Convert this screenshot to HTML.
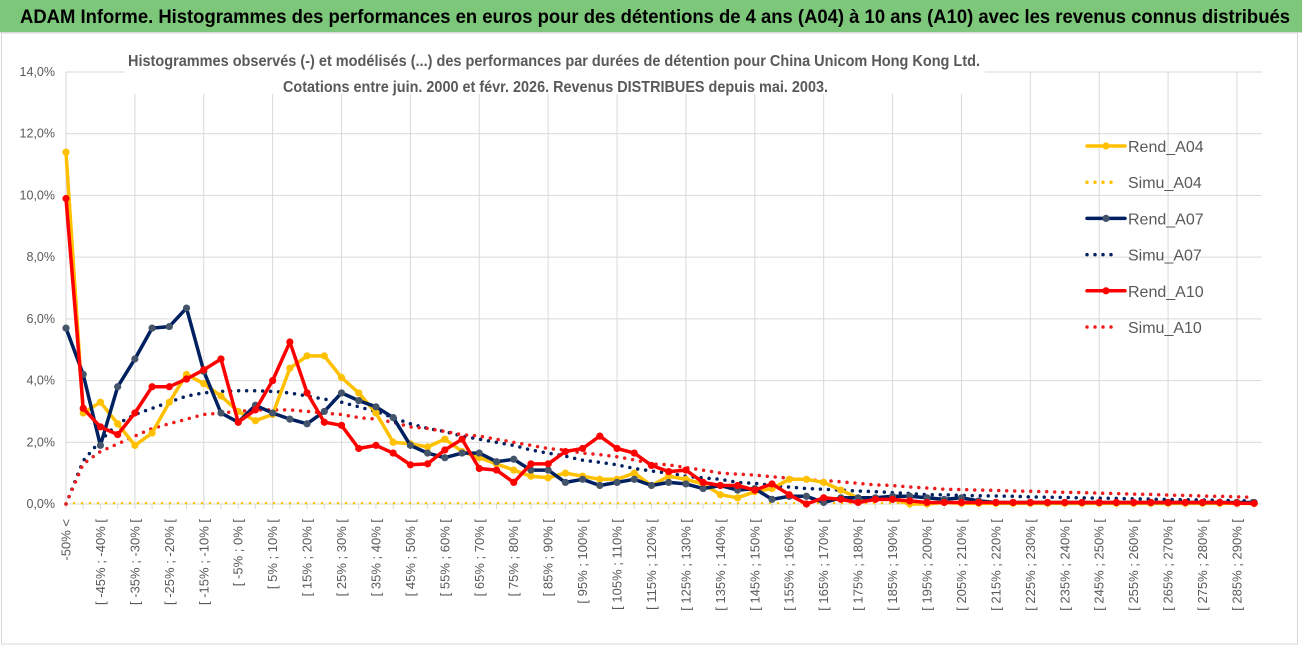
<!DOCTYPE html>
<html><head><meta charset="utf-8">
<style>
html,body{margin:0;padding:0;background:#fff;}
svg{display:block;font-family:"Liberation Sans Narrow","Liberation Sans",sans-serif;}
</style></head>
<body>
<svg id="chart" width="1302" height="647" viewBox="0 0 1302 647" xmlns="http://www.w3.org/2000/svg">
  <rect x="0" y="0" width="1302" height="647" fill="#fff"/>
  <rect x="0" y="0" width="1302" height="32" fill="#7cc77a"/>
  <line x1="0" y1="32.5" x2="1302" y2="32.5" stroke="#d9d9d9" stroke-width="1"/>
  <text x="20" y="23" font-size="19" font-weight="bold" fill="#000" textLength="1270" lengthAdjust="spacingAndGlyphs">ADAM Informe. Histogrammes des performances en euros pour des détentions de 4 ans (A04) à 10 ans (A10) avec les revenus connus distribués</text>
  <rect x="1.5" y="33" width="1296" height="611" fill="none" stroke="#d9d9d9"/>
  <g id="grid"></g>
  <g id="yaxis"></g>
  <g id="xaxis"></g>
  <g id="series"></g>
  <rect x="125" y="44" width="860" height="50" fill="#fff"/>
  <text x="128" y="66" font-size="16" font-weight="bold" fill="#595959" textLength="852" lengthAdjust="spacingAndGlyphs">Histogrammes observés (-) et modélisés (...) des performances par durées de détention pour China Unicom Hong Kong Ltd.</text>
  <text x="283" y="92" font-size="16" font-weight="bold" fill="#595959" textLength="545" lengthAdjust="spacingAndGlyphs">Cotations entre juin. 2000 et févr. 2026. Revenus DISTRIBUES depuis mai. 2003.</text>
  <g id="legend"></g>
</svg>
<script>
const categories = (function(){ const c=["-50% <"]; for(let a=-50;a<295;a+=5){ c.push("[ "+a+"% ; "+(a+5)+"% ["); } return c; })();
const yTicks = [0,2,4,6,8,10,12,14];
const yTickLabels = ["0,0%","2,0%","4,0%","6,0%","8,0%","10,0%","12,0%","14,0%"];
const rendA04 = [11.4,2.95,3.3,2.6,1.9,2.3,3.3,4.2,3.9,3.5,3.0,2.7,2.9,4.4,4.8,4.8,4.1,3.6,2.95,2.0,1.95,1.85,2.1,1.7,1.5,1.3,1.1,0.9,0.85,1.0,0.9,0.8,0.8,1.0,0.6,0.9,0.8,0.65,0.3,0.2,0.4,0.5,0.8,0.8,0.7,0.45,0.2,0.15,0.15,0.0,0.0,0.05,0.02,0.02,0.02,0.02,0.02,0.02,0.02,0.02,0.02,0.02,0.02,0.02,0.02,0.02,0.02,0.02,0.02,0.02];
const simuA04 = [0.03,0.03,0.03,0.03,0.03,0.03,0.03,0.03,0.03,0.03,0.03,0.03,0.03,0.03,0.03,0.03,0.03,0.03,0.03,0.03,0.03,0.03,0.03,0.03,0.03,0.03,0.03,0.03,0.03,0.03,0.03,0.03,0.03,0.03,0.03,0.03,0.03,0.03,0.03,0.03,0.03,0.03,0.03,0.03,0.03,0.03,0.03,0.03,0.03,0.03,0.03,0.03,0.03,0.03,0.03,0.03,0.03,0.03,0.03,0.03,0.03,0.03,0.03,0.03,0.03,0.03,0.03,0.03,0.03,0.03];
const rendA07 = [5.7,4.2,1.9,3.8,4.7,5.7,5.75,6.35,4.3,2.95,2.65,3.2,2.95,2.75,2.6,3.0,3.6,3.35,3.15,2.8,1.9,1.65,1.5,1.65,1.65,1.37,1.45,1.1,1.1,0.7,0.8,0.6,0.7,0.8,0.6,0.7,0.65,0.5,0.6,0.45,0.5,0.15,0.25,0.25,0.05,0.2,0.2,0.2,0.25,0.25,0.2,0.15,0.2,0.1,0.05,0.05,0.05,0.05,0.05,0.05,0.05,0.05,0.05,0.05,0.05,0.05,0.05,0.05,0.05,0.05];
const simuA07 = [0,1.4,2.05,2.6,2.9,3.1,3.3,3.5,3.6,3.65,3.67,3.67,3.65,3.6,3.5,3.4,3.3,3.15,3.0,2.8,2.6,2.45,2.35,2.2,2.1,2.0,1.9,1.75,1.65,1.55,1.42,1.35,1.27,1.15,1.07,1.0,0.9,0.85,0.8,0.7,0.67,0.6,0.55,0.5,0.48,0.45,0.42,0.4,0.37,0.34,0.3,0.3,0.28,0.27,0.26,0.25,0.23,0.22,0.21,0.2,0.19,0.18,0.17,0.16,0.15,0.14,0.13,0.12,0.11,0.1];
const rendA10 = [9.9,3.1,2.5,2.25,2.95,3.8,3.8,4.05,4.35,4.7,2.65,3.05,4.0,5.25,3.6,2.65,2.55,1.8,1.9,1.65,1.27,1.3,1.75,2.1,1.15,1.1,0.7,1.3,1.3,1.7,1.8,2.2,1.8,1.65,1.25,1.05,1.1,0.7,0.6,0.6,0.45,0.65,0.3,0.0,0.2,0.15,0.05,0.15,0.15,0.1,0.05,0.05,0.05,0.05,0.05,0.05,0.05,0.05,0.05,0.05,0.05,0.05,0.05,0.05,0.05,0.05,0.05,0.05,0.03,0.02];
const simuA10 = [0,1.3,1.7,1.95,2.2,2.45,2.6,2.75,2.9,2.95,3.0,3.05,3.05,3.05,3.0,2.95,2.9,2.8,2.75,2.65,2.5,2.45,2.35,2.25,2.2,2.1,2.0,1.9,1.8,1.75,1.65,1.6,1.53,1.43,1.3,1.27,1.18,1.1,1.0,0.97,0.94,0.88,0.84,0.78,0.76,0.72,0.67,0.62,0.6,0.55,0.52,0.48,0.47,0.45,0.44,0.42,0.41,0.4,0.38,0.37,0.35,0.34,0.32,0.31,0.29,0.28,0.26,0.25,0.23,0.22];

const NS="http://www.w3.org/2000/svg";
const X0=66, STEP=17.22, Y0=504, YTOP=72, YMAX=14, XR=1262;
function xScale(i){ return X0+i*STEP; }
function yScale(v){ return Y0-(v/YMAX)*(Y0-YTOP); }
function mk(tag,attrs,parent){ const e=document.createElementNS(NS,tag); for(const k in attrs) e.setAttribute(k,attrs[k]); parent.appendChild(e); return e; }

const grid=document.getElementById('grid');
yTicks.forEach((t,k)=>{
  const l=mk('line',{x1:X0,x2:XR,y1:yScale(t),y2:yScale(t),stroke:'#d9d9d9','stroke-width':1},grid);
  
  
});
for(let i=0;i<categories.length;i+=4){
  const l=mk('line',{x1:xScale(i),x2:xScale(i),y1:YTOP,y2:Y0,stroke:'#d9d9d9','stroke-width':1},grid);
  
  
}
const ya=document.getElementById('yaxis');
yTicks.forEach((t,k)=>{
  const tx=mk('text',{x:55,y:yScale(t)+4,'text-anchor':'end','font-size':12.5,fill:'#595959'},ya);
  tx.textContent=yTickLabels[k];
  
  
});
const xa=document.getElementById('xaxis');
mk('line',{x1:X0,x2:XR,y1:Y0,y2:Y0,stroke:'#d9d9d9','stroke-width':1},xa);
for(let i=0;i<categories.length;i++){
  mk('line',{x1:xScale(i),x2:xScale(i),y1:Y0,y2:Y0+5,stroke:'#d9d9d9','stroke-width':1},xa);
  if(i%2===0){
    const x=xScale(i)+4.5, y=519;
    const tx=mk('text',{x:x,y:y,'text-anchor':'end','font-size':13,fill:'#595959',transform:'rotate(-90 '+x+' '+y+')'},xa);
    tx.textContent=categories[i];
    
    
  }
}
const seriesG=document.getElementById('series');
function pathFor(arr){ return arr.map((v,i)=>(i?'L':'M')+xScale(i).toFixed(1)+' '+yScale(v).toFixed(1)).join(' '); }
function dotted(arr,color,w,name){
  const p=mk('path',{d:pathFor(arr),fill:'none',stroke:color,'stroke-width':w,'stroke-linecap':'round','stroke-dasharray':'0 8'},seriesG);
  
  
}
function solid(arr,color,mcolor,name){
  const g=mk('g',{},seriesG);
  
  
  mk('path',{d:pathFor(arr),fill:'none',stroke:color,'stroke-width':3.5,'stroke-linejoin':'round'},g);
  arr.forEach((v,i)=>{
    const c=mk('circle',{cx:xScale(i),cy:yScale(v),r:3.6,fill:mcolor},g);
    
    
  });
}
dotted(simuA04,'#ffc000',2.5,'simu-a04-line');
dotted(simuA07,'#002060',3.5,'simu-a07-line');
dotted(simuA10,'#ee1c1c',3.5,'simu-a10-line');
solid(rendA04,'#ffc000','#ffc000','rend-a04-line');
solid(rendA07,'#002060','#44546a','rend-a07-line');
solid(rendA10,'#ff0000','#ff0000','rend-a10-line');

const legend=document.getElementById('legend');
const legendItems=[["Rend_A04","#ffc000","#ffc000",false],["Simu_A04","#ffc000","",true],["Rend_A07","#002060","#44546a",false],["Simu_A07","#002060","",true],["Rend_A10","#ff0000","#ff0000",false],["Simu_A10","#ee1c1c","",true]];
legendItems.forEach((it,k)=>{
  const y=146+k*36.2;
  const g=mk('g',{},legend);
  
  
  if(it[3]){
    mk('line',{x1:1087,x2:1117,y1:y,y2:y,stroke:it[1],'stroke-width':3.5,'stroke-linecap':'round','stroke-dasharray':'0 8'},g);
  } else {
    mk('line',{x1:1087,x2:1125,y1:y,y2:y,stroke:it[1],'stroke-width':3.5,'stroke-linecap':'round'},g);
    mk('circle',{cx:1106,cy:y,r:3.6,fill:it[2]},g);
  }
  const tx=mk('text',{x:1128,y:y+6,'font-size':16,fill:'#595959'},g);
  tx.textContent=it[0];
});
</script>
</body></html>
